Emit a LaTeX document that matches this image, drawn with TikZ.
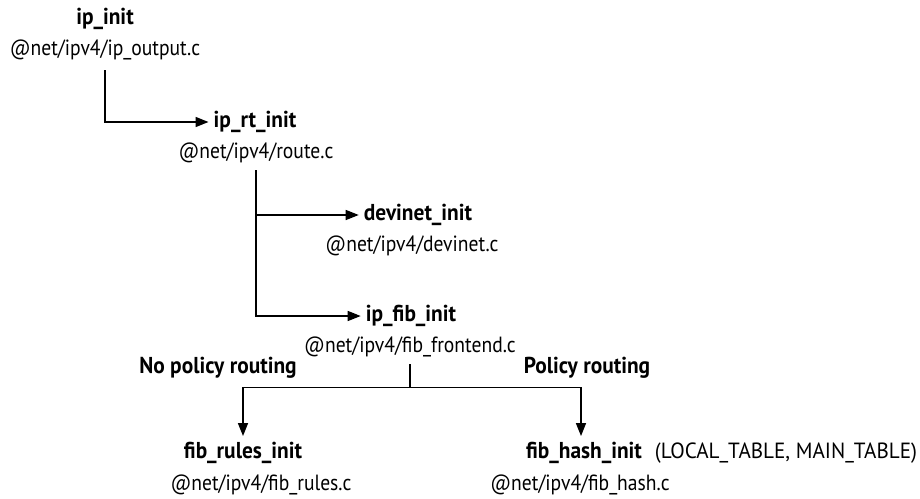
\documentclass[tikz,border=0pt]{standalone}
\usepackage{fontspec}
\setmainfont{PT Sans}
\newfontfamily\filefont{PT Sans}[FakeStretch=0.89]
\newfontfamily\fnfont{PT Sans}[FakeStretch=0.93]
\newfontfamily\tabfont{PT Sans}[FakeStretch=0.96]
\usetikzlibrary{arrows.meta}
\begin{document}
\begin{tikzpicture}[x=1pt,y=-1pt,
  fn/.style={font=\fnfont\fontsize{23}{24}\selectfont\bfseries,inner sep=2pt},
  file/.style={font=\filefont\fontsize{22}{24}\selectfont,inner sep=2pt},
  arr/.style={line width=1.5pt,-{Triangle[length=13pt,width=10pt]}},
  lbl/.style={font=\fnfont\fontsize{23}{24}\selectfont\bfseries,inner sep=2pt}]
\useasboundingbox[fill=white] (0,0) rectangle (920,498);
\node[fn] (ipinit) at (105,19) {ip\_init};
\node[file] (ipinitf) at (105,50) {@net/ipv4/ip\_output.c};
\node[fn] (iprt) at (255,122) {ip\_rt\_init};
\node[file] (iprtf) at (256,153) {@net/ipv4/route.c};
\node[fn] (devinet) at (418,215) {devinet\_init};
\node[file] (devinetf) at (412,246) {@net/ipv4/devinet.c};
\node[fn] (ipfib) at (411,316) {ip\_fib\_init};
\node[file] (ipfibf) at (410,347) {@net/ipv4/fib\_frontend.c};
\node[lbl] (nopol) at (218,368) {No policy routing};
\node[lbl] (pol) at (587,368) {Policy routing};
\node[fn] (fibrules) at (243,453) {fib\_rules\_init};
\node[file] (fibrulesf) at (261,485) {@net/ipv4/fib\_rules.c};
\node[fn] (fibhash) at (584,453) {fib\_hash\_init};
\node[file] (fibhashf) at (580,485) {@net/ipv4/fib\_hash.c};
\node[file,font=\tabfont\fontsize{22}{24}\selectfont] (tables) at (786,453) {(LOCAL\_TABLE, MAIN\_TABLE)};
\draw[arr,shorten >=3pt] ([yshift=-8pt]ipinitf.south) |- (iprt.west);
\draw[arr,shorten >=3pt] ([yshift=-5pt]iprtf.south) |- (devinet.west);
\draw[arr,shorten >=3pt] ([yshift=-5pt]iprtf.south) |- (ipfib.west);
\coordinate (split) at ([yshift=-28pt]ipfibf.south);
\draw[line width=1.5pt] ([yshift=-5pt]ipfibf.south) -- (split);
\draw[arr,shorten >=4pt] (split) -| (fibrules.north);
\draw[arr,shorten >=4pt] (split) -| ([xshift=-3pt]fibhash.north);
\end{tikzpicture}
\end{document}
